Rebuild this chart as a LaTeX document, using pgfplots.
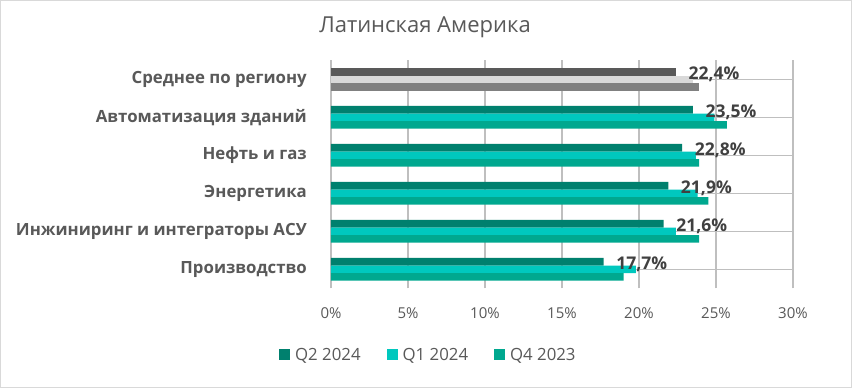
\documentclass[border=0pt]{standalone}
\usepackage{fontspec}
\setmainfont{Open Sans}
\usepackage{pgfplots}
\pgfplotsset{compat=1.18}
\definecolor{cQtwo}{HTML}{00806E}
\definecolor{cQone}{HTML}{00C8BE}
\definecolor{cQfour}{HTML}{00A88F}
\definecolor{gA}{HTML}{595959}
\definecolor{gB}{HTML}{D9D9D9}
\definecolor{gC}{HTML}{808080}
\definecolor{txt}{HTML}{595959}
\definecolor{lab}{HTML}{404040}
\definecolor{grid}{HTML}{D9D9D9}
\begin{document}
\begin{tikzpicture}
\path[use as bounding box] (0,0) rectangle (852pt,388pt);
\fill[white] (0,0) rectangle (852pt,388pt);
\draw[grid, line width=1pt] (0.5pt,0.5pt) rectangle (851.5pt,387.5pt);
\begin{axis}[
  at={(331pt,99.7pt)}, anchor=south west,
  scale only axis, width=462pt, height=228pt,
  xbar, bar width=7.57pt,
  xmin=0, xmax=30, ymin=-0.5, ymax=5.5,
  xtick={0,5,...,30},
  xticklabel={\pgfmathprintnumber{\tick}\%},
  xticklabel style={font=\fontsize{15}{18}\selectfont, text=txt, anchor=center, yshift=-25pt, /pgf/number format/assume math mode=true},
  ytick={0,1,2,3,4,5},
  yticklabels={Производство, Инжиниринг и интеграторы АСУ, Энергетика, Нефть и газ, Автоматизация зданий, Среднее по региону},
  yticklabel style={font=\bfseries\fontsize{16.8}{19}\selectfont, text=txt, anchor=east, inner sep=0pt, xshift=-24pt},
  major tick length=0pt,
  axis line style={draw=none},
  xmajorgrids, grid style={grid, line width=1.5pt},
  title={Латинская Америка},
  title style={at={(axis description cs:0.2035,1.1197)}, anchor=center, font=\fontsize{22}{26}\selectfont, text=txt},
  legend style={at={(axis description cs:0.214,-0.2925)}, anchor=center, draw=none, fill=none,
    font=\fontsize{16.8}{20}\selectfont, text=txt, legend columns=-1,
    /tikz/every even column/.append style={column sep=21pt},
    nodes={inner sep=0pt, inner xsep=5pt}},
  legend image code/.code={\fill[#1] (0pt,-5.5pt) rectangle (11pt,5.5pt);},
  nodes near coords style={font=\bfseries\fontsize{17.5}{20}\selectfont, text=lab, anchor=west, inner sep=0pt, xshift=12.5pt, yshift=-2.5pt},
]
\addplot+[draw=none, fill=cQtwo, bar shift=7.57pt,
  nodes near coords={\pgfmathprintnumber[fixed, fixed zerofill, precision=1, use comma, assume math mode=true]{\pgfplotspointmeta}\%}]
  coordinates {(17.7,0) (21.6,1) (21.9,2) (22.8,3) (23.5,4)};
\addlegendentry{Q2 2024}
\addplot+[draw=none, fill=cQone, bar shift=0pt]
  coordinates {(19.8,0) (22.4,1) (23.8,2) (23.7,3) (24.9,4)};
\addlegendentry{Q1 2024}
\addplot+[draw=none, fill=cQfour, bar shift=-7.57pt]
  coordinates {(19.0,0) (23.9,1) (24.5,2) (23.9,3) (25.7,4)};
\addlegendentry{Q4 2023}
\addplot+[draw=none, fill=gB, bar shift=0pt, forget plot]
  coordinates {(23.5,5)};
\addplot+[draw=none, fill=gC, bar shift=-7.57pt, forget plot]
  coordinates {(23.9,5)};
\addplot+[draw=none, fill=gA, bar shift=7.57pt, forget plot,
  nodes near coords={\pgfmathprintnumber[fixed, fixed zerofill, precision=1, use comma, assume math mode=true]{\pgfplotspointmeta}\%}]
  coordinates {(22.4,5)};
\end{axis}
\end{tikzpicture}
\end{document}
